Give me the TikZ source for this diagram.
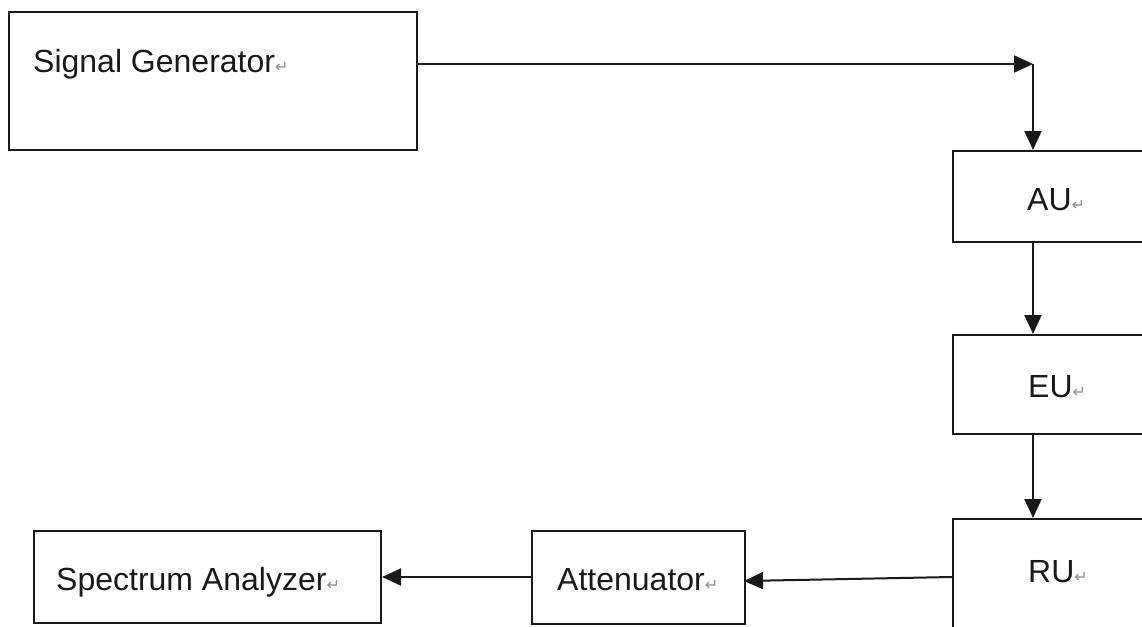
\documentclass[tikz,border=0pt]{standalone}
\usepackage{fontspec}
\setmainfont{Liberation Sans}
\newfontfamily\symfont{DejaVu Sans}
\usetikzlibrary{arrows.meta,calc}
\newcommand{\retmark}{{\symfont\fontsize{16pt}{16pt}\selectfont\color{black!45}↵}}
\begin{document}
\begin{tikzpicture}[x=1pt,y=-1pt,
  box/.style={draw=black!90,line width=2pt,rectangle,inner sep=0pt,anchor=north west},
  lbl/.style={anchor=base west,inner sep=0pt,font=\fontsize{32pt}{36pt}\selectfont,text=black!90},
  conn/.style={line width=2pt,draw=black!90,-{Triangle[length=19pt,width=17pt]}}]
\useasboundingbox (0,0) rectangle (1142,626);
\fill[white] (0,0) rectangle (1142,626);
\clip (0,0) rectangle (1142,626);
% boxes
\node[box,minimum width=408pt,minimum height=138pt] (sg) at (8,11) {};
\node[box,minimum width=230pt,minimum height=91pt] (au) at (952,150) {};
\node[box,minimum width=230pt,minimum height=99pt] (eu) at (952,334) {};
\node[box,minimum width=230pt,minimum height=140pt] (ru) at (952,518) {};
\node[box,minimum width=213pt,minimum height=93pt] (att) at (531,530) {};
\node[box,minimum width=347pt,minimum height=92pt] (sa) at (33,530) {};
% labels
\node[lbl] (sgt) at (33,73) {Signal Generator\retmark};
\node[lbl] (aut) at (1027,210) {AU\retmark};
\node[lbl] (eut) at (1028,397) {EU\retmark};
\node[lbl] (rut) at (1028,582) {RU\retmark};
\node[lbl] (attt) at (557,590) {Attenuator\retmark};
\node[lbl] (sat) at (56,590) {Spectrum Analyzer\retmark};
% connectors
\coordinate (corner) at (1033,64);
\coordinate (ruout) at (952,577);
\coordinate (attin) at (744,581);
\coordinate (attout) at (531,577);
\draw[conn] (sg.east |- corner) -- (corner);
\draw[conn] (corner) -- (corner |- au.north);
\draw[conn] (corner |- au.south) -- (corner |- eu.north);
\draw[conn] (corner |- eu.south) -- (corner |- ru.north);
\draw[conn] (ruout) -- (attin);
\draw[conn] (attout) -- (sa.east |- attout);
\end{tikzpicture}
\end{document}
